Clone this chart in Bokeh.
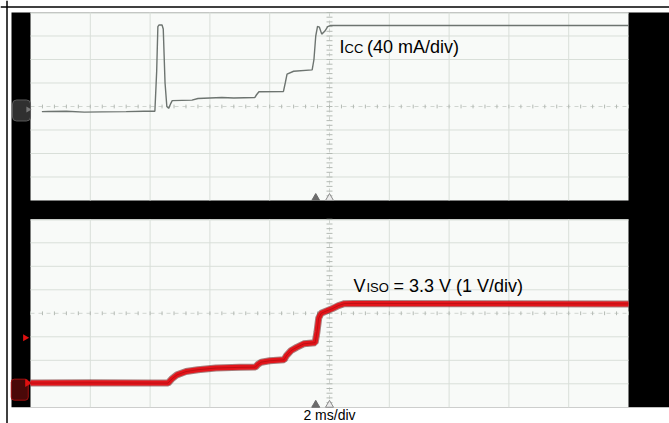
from bokeh.plotting import figure
from bokeh.models import Span
from bokeh.core.properties import value
from bokeh.embed import file_html
from bokeh.resources import INLINE
import numpy as np

# ---------------- data ----------------
# upper channel: supply current I_CC
icc_time_ms = [0.38, 0.6, 1.2, 1.8, 2.4, 3.2, 3.8, 4.16, 4.22, 4.26, 4.30, 4.40,
               4.44, 4.50, 4.56, 4.62, 4.68, 4.74, 5.4, 5.6, 6.4, 6.8, 7.5,
               7.56, 7.64, 8.46, 8.52, 8.58, 8.8, 9.42, 9.48, 9.54, 9.60,
               9.66, 9.74, 9.84, 9.94, 10.04, 20.0]
icc_mA = [0.0, 0.4, 0.8, -0.8, -0.4, 0.0, 0.8, 0.8, 68.8, 144.8, 147.6, 147.6,
          140.8, 48.8, 8.8, 5.6, 12.8, 18.8, 19.6, 22.4, 24.0, 23.2, 24.0,
          28.8, 34.0, 34.4, 48.8, 64.0, 68.8, 71.2, 88.8, 128.8, 145.2,
          144.0, 132.0, 136.8, 144.8, 146.8, 146.8]

# lower channel: isolated output voltage V_ISO
viso_time_ms = [0.0, 2.0, 4.0, 4.60, 4.72, 4.90, 5.2, 5.6, 6.2, 7.0, 7.52,
                7.60, 7.72, 8.0, 8.48, 8.56, 8.72, 8.90, 9.14, 9.52, 9.58,
                9.64, 9.72, 9.90, 10.10, 10.30, 10.50, 10.8, 20.0]
viso_V = [0.0, 0.01, 0.0, 0.0, 0.17, 0.35, 0.49, 0.57, 0.64, 0.67, 0.68,
          0.79, 0.89, 0.95, 0.99, 1.17, 1.39, 1.52, 1.67, 1.72, 2.17,
          2.77, 2.97, 3.07, 3.17, 3.30, 3.38, 3.39, 3.37]

MS_PER_DIV = 2.0
MA_PER_DIV = 40.0
V_PER_DIV = 1.0
ICC_ZERO_DIV = -0.22      # position of 0 mA on the upper screen (divisions)
VISO_ZERO_DIV = -2.97     # position of 0 V on the lower screen (divisions)
UPPER_C = 0.0             # centre of the upper screen
LOWER_C = -8.8            # centre of the lower screen

# ---------------- figure geometry ----------------
W, H = 669, 423
PX_X, PX_Y = 59.8, 23.5
x_start = -30 / PX_X
x_end = x_start + W / PX_X
y_end = (12 + 4 * PX_Y) / PX_Y
y_start = y_end - H / PX_Y

p = figure(width=W, height=H, x_range=(x_start, x_end), y_range=(y_start, y_end),
           toolbar_location=None, output_backend="svg",
           x_axis_location=None, y_axis_location=None, min_border=0)
p.min_border_left = p.min_border_right = p.min_border_top = p.min_border_bottom = 0
p.outline_line_color = None
p.background_fill_color = "white"
p.border_fill_color = "white"
for g in p.grid:
    g.visible = False

FONT = value("Liberation Sans")

# outer frame lines (left and top)
p.add_layout(Span(location=x_start + 6.5 / PX_X, dimension="height",
                  line_color="black", line_width=1.5))
p.add_layout(Span(location=y_end - 6.5 / PX_Y, dimension="width",
                  line_color="black", line_width=1.5))

# black scope background
p.quad(left=[-19 / PX_X], right=[x_end], top=[UPPER_C + 4], bottom=[LOWER_C - 4],
       fill_color="black", line_color=None)

# screens
centres = [UPPER_C, LOWER_C]
p.quad(left=[0, 0], right=[10, 10], top=[c + 4 for c in centres],
       bottom=[c - 4 for c in centres], fill_color="#f8faf8", line_color=None)

GRID = "#d9dfd9"
xs, ys = [], []
for c in centres:
    for k in range(1, 10):
        if k != 5:
            xs.append([k, k]); ys.append([c - 4, c + 4])
    for k in [-3, -2, -1, 1, 2, 3]:
        xs.append([0, 10]); ys.append([c + k, c + k])
    xs.append([0, 10]); ys.append([c + 3.97, c + 3.97])
p.multi_line(xs=xs, ys=ys, line_color=GRID, line_width=1)

# centre lines with minor ticks
cxs, cys, txs, tys = [], [], [], []
for c in centres:
    cxs += [[0, 10], [5, 5]]
    cys += [[c, c], [c - 4, c + 4]]
    for i in range(51):
        xv = 0.2 * i
        txs.append([xv, xv]); tys.append([c - 0.08, c + 0.08])
    for j in range(41):
        yv = c - 4 + 0.2 * j
        txs.append([4.95, 5.05]); tys.append([yv, yv])
p.multi_line(xs=cxs, ys=cys, line_color="#d0d5d0", line_width=1, line_dash="4 4")
p.multi_line(xs=txs, ys=tys, line_color="#b4bab4", line_width=1)

# trigger position markers at the bottom of each screen
for c in centres:
    p.scatter(x=[4.77], y=[c - 3.9], marker="triangle", size=8,
              fill_color="#6b6b6b", line_color="#6b6b6b")
    p.scatter(x=[5.0], y=[c - 3.9], marker="triangle", size=8,
              fill_color="#ececec", line_color="#8a8a8a")

# channel markers on the left
p.rect(x=[-0.15], y=[UPPER_C - 0.17], width=18, height=21, width_units="screen",
       height_units="screen", fill_color="#303030", line_color="#5a5a5a",
       border_radius=4)
p.scatter(x=[-0.04], y=[UPPER_C - 0.13], marker="triangle", angle=-np.pi / 2,
          size=6, fill_color="#777777", line_color=None)
p.rect(x=[-0.18], y=[LOWER_C - 3.25], width=17, height=21, width_units="screen",
       height_units="screen", fill_color="#4a0808", line_color="#a01010",
       border_radius=3)
p.scatter(x=[-0.05], y=[LOWER_C + VISO_ZERO_DIV], marker="triangle", angle=-np.pi / 2,
          size=8, fill_color="#e01010", line_color=None)
p.scatter(x=[-0.09], y=[LOWER_C - 1.04], marker="triangle", angle=-np.pi / 2,
          size=7, fill_color="#e01010", line_color=None)

# traces
tx_u = np.array(icc_time_ms) / MS_PER_DIV
ty_u = np.array(icc_mA) / MA_PER_DIV + ICC_ZERO_DIV + UPPER_C
p.line(tx_u, ty_u, line_color="#6d7470", line_width=1.4)

tx_l = np.array(viso_time_ms) / MS_PER_DIV
ty_l = np.array(viso_V) / V_PER_DIV + VISO_ZERO_DIV + LOWER_C
p.line(tx_l, ty_l, line_color="#5a0000", line_width=7, line_alpha=0.5)
p.line(tx_l, ty_l, line_color="#e3151b", line_width=5)
p.line(tx_l, ty_l, line_color="#6a0000", line_width=1, line_alpha=0.3)

# labels
ux, uy = (339 - 30) / PX_X, UPPER_C + 2.52
p.text(x=[ux], y=[uy], text=["I"], text_font=FONT, text_font_size="18px",
       text_color="black", text_baseline="alphabetic")
p.text(x=[ux], y=[uy], text=["CC"], x_offset=5.0, y_offset=1, text_font=FONT,
       text_font_size="13px", text_color="black", text_baseline="alphabetic")
p.text(x=[ux], y=[uy], text=["(40 mA/div)"], x_offset=27.5, text_font=FONT,
       text_font_size="18px", text_color="black", text_baseline="alphabetic")

vx, vy = (353 - 30) / PX_X, LOWER_C + 1.15
p.text(x=[vx], y=[vy], text=["V"], text_font=FONT, text_font_size="18px",
       text_color="black", text_baseline="alphabetic")
p.text(x=[vx], y=[vy], text=["ISO"], x_offset=13.0, y_offset=1, text_font=FONT,
       text_font_size="13px", text_color="black", text_baseline="alphabetic")
p.text(x=[vx], y=[vy], text=["= 3.3 V (1 V/div)"], x_offset=40.0, text_font=FONT,
       text_font_size="18px", text_color="black", text_baseline="alphabetic")

p.text(x=[5.0], y=[y_start + 1.0 / PX_Y], text=["2 ms/div"], text_font=FONT,
       text_font_size="14px", text_color="black", text_align="center",
       text_baseline="bottom")

open("out.html", "w").write(file_html(p, INLINE))
